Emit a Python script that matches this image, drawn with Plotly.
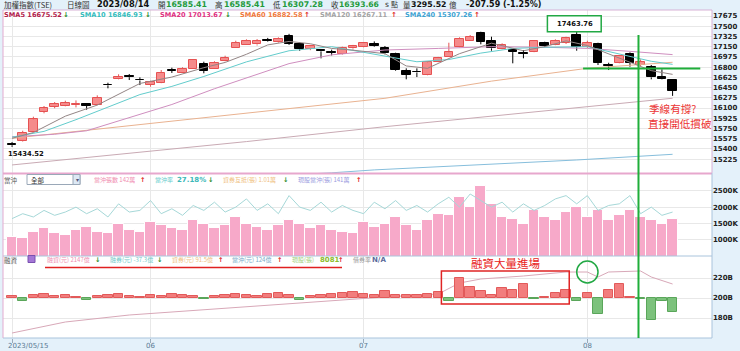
import plotly.graph_objects as go

W, H = 740, 351

# ---------------- data ----------------
day_index = list(range(63))
open_px = [15470, 15535, 15694, 16031, 16122, 16139, 16150, 16160, 16151, 16497,
           16596, 16640, 16582, 16493, 16523, 16745, 16704, 16762, 16853, 16773,
           16899, 17132, 17184, 17190, 17260, 17230, 17330, 17200, 17110, 17090,
           17060, 17020, 17120, 17150, 17200, 17132, 17019, 16738, 16715, 16665,
           16882, 16978, 17139, 17252, 17379, 17252, 17105, 17093, 17040, 17053,
           17218, 17178, 17218, 17350, 17149, 17196, 16822, 16865, 17019, 16836,
           16807, 16636, 16585.41]
high_px = [15517, 15711, 15951, 16134, 16202, 16225, 16230, 16168, 16317, 16533,
           16677, 16682, 16625, 16567, 16750, 16790, 16797, 16930, 16893, 16900,
           16995, 17252, 17276, 17280, 17300, 17310, 17370, 17230, 17180, 17110,
           17100, 17150, 17180, 17230, 17240, 17161, 17047, 16779, 16779, 16890,
           16975, 17218, 17310, 17350, 17406, 17321, 17207, 17100, 17093, 17264,
           17235, 17276, 17321, 17463.76, 17252, 17218, 16875, 16995, 17053, 16933,
           16836, 16762, 16585.41]
low_px = [15434.52, 15526, 15690, 16009, 16095, 16129, 16110, 16070, 16148, 16437,
          16590, 16579, 16493, 16465, 16520, 16700, 16700, 16760, 16694, 16770,
          16895, 17130, 17180, 17170, 17230, 17220, 17180, 17080, 17090, 16950,
          17000, 17010, 17100, 17140, 17150, 17019, 16738, 16591, 16630, 16660,
          16878, 16975, 17135, 17248, 17190, 17081, 17100, 16865, 16951, 17050,
          17139, 17175, 17196, 17081, 17130, 16836, 16750, 16860, 16807, 16820,
          16591, 16590, 16307.28]
close_px = [15462, 15672, 15906, 16095, 16168, 16185, 16165, 16142, 16276, 16488,
            16636, 16628, 16572, 16550, 16704, 16740, 16773, 16922, 16738, 16875,
            16956, 17218, 17247, 17250, 17240, 17290, 17200, 17110, 17160, 17070,
            17050, 17130, 17160, 17210, 17170, 17036, 16750, 16665, 16708, 16882,
            16961, 17053, 17281, 17321, 17235, 17122, 17178, 17058, 17032, 17252,
            17161, 17247, 17293, 17149, 17218, 16875, 16816, 16990, 16875, 16893,
            16625, 16601.25, 16393.66]

volume_k = [1100, 1050, 1250, 1350, 1200, 1150, 1300, 1400, 1250, 1200,
            1500, 1300, 1250, 1550, 1450, 1350, 1300, 1600, 1500, 1350,
            1450, 1700, 1500, 1400, 1300, 1450, 1600, 1500, 1350, 1450,
            1300, 1250, 1200, 1550, 1400, 1500, 1700, 1450, 1300, 1600,
            1800, 1750, 2300, 2000, 2650, 2100, 1700, 1650, 1500, 1900,
            1700, 1600, 1850, 2000, 1700, 1900, 1600, 1750, 1900, 1700,
            1600, 1500, 1650]
daytrade_k = [1650, 1800, 1700, 1900, 1750, 1850, 2000, 1800, 1950, 1700,
              2100, 1850, 1900, 2200, 1800, 1950, 1750, 2050, 1900, 2150,
              1850, 2000, 2250, 1900, 2100, 1800, 2350, 2000, 1900, 2150,
              1850, 2050, 1900, 1800, 2150, 1950, 2200, 1900, 2050, 1850,
              2100, 2300, 2000, 2400, 2200, 2000, 2150, 1850, 2100, 1900,
              2050, 2250, 2350, 2100, 2350, 1900, 2050, 2100, 2350, 1800,
              2000, 1750, 1850]

margin_change = [2, -3, 3, 4, 2, 3, 1, -2, 2, 3,
                 4, 2, 1, 3, 2, 4, 3, 2, -1, 2,
                 3, 4, 3, 2, 4, 5, 3, -2, 2, 3,
                 4, 5, 6, 4, 3, 7.3, 3, 2.7, 3, 3.7,
                 6, -3.4, 20, 10.7, 7, 2.7, 9.7, 8.3, 14, -0.5,
                 1, 4.7, 8, -3.3, 4.7, -15.7, 8, 14, 1, -1,
                 -21.7, -2.5, -14.3]
margin_bal_idx = [0, 5, 11, 20, 28, 35, 40, 42, 44, 48, 52, 54, 55, 56, 59, 60, 62]
margin_bal = [165, 176, 183, 190, 196, 201, 204, 215, 219, 222, 226, 226, 221, 226, 227, 221, 214]

sma5_idx = [0, 2, 5, 8, 12, 15, 18, 20, 22, 24, 26, 28, 30, 32, 35, 37, 39, 42, 45, 48, 50, 52, 54, 56, 58, 60, 62]
sma5 = [15581, 15680, 15960, 16150, 16520, 16630, 16790, 16880, 17020, 17180, 17240, 17200, 17120, 17090,
        17030, 16820, 16780, 17030, 17210, 17080, 17150, 17250, 17170, 17030, 16880, 16740, 16676]
sma10_idx = [0, 3, 6, 9, 12, 15, 18, 22, 26, 30, 35, 38, 41, 44, 47, 50, 54, 57, 60, 62]
sma10 = [15600, 15700, 15900, 16120, 16330, 16470, 16640, 16890, 17080, 17150, 16990, 16892, 16930, 17040,
         17120, 17140, 17150, 17020, 16900, 16847]
sma20_idx = [0, 4, 7, 11, 15, 19, 22, 26, 30, 35, 40, 45, 50, 54, 58, 62]
sma20 = [15608, 15650, 15710, 15930, 16160, 16430, 16620, 16860, 17010, 17093, 17120, 17150, 17140, 17120,
         17070, 17014]
sma60_idx = [0, 22, 35, 45, 54, 62]
sma60 = [15581, 16009, 16266, 16560, 16780, 16883]
sma120_idx = [0, 22, 35, 48, 62]
sma120 = [15125, 15525, 15780, 16020, 16267]
sma240_idx = [0, 30, 34, 53, 62]
sma240 = [14730, 14990, 15040, 15210, 15307]

price_ticks = [17675, 17500, 17325, 17150, 16975, 16800, 16625, 16450, 16275, 16100,
               15925, 15750, 15575, 15400, 15225]
vol_ticks = [1000, 1500, 2000, 2500]
vol_labels = ["1000K", "1500K", "2000K", "2500K"]
margin_ticks = [180, 200, 220]
margin_labels = ["180B", "200B", "220B"]
month_idx = [0, 13, 33, 54]
month_labels = ["2023/05/15", "06", "07", "08"]
support_level = 16776
break_idx = 58.8
peak_idx = 53

# ---------------- helpers ----------------
def px(x):
    return x / W


def py(y):
    return 1 - y / H


LAT = "DejaVu Sans"
CJK = "Noto Sans CJK TC"


def ann(text, x, y, size=7, color="#333", bold=False, family=LAT, xanchor="left"):
    return dict(text=text, x=px(x), y=py(y), xref="paper", yref="paper",
                xanchor=xanchor, yanchor="middle", showarrow=False,
                font=dict(size=size, color=color, family=family,
                          weight="bold" if bold else "normal"))


fig = go.Figure()

# ---------------- price panel: candles drawn from bars (bodies) + lines (wicks) ----------------
RED_FILL, RED_LINE = "#f58b8b", "#e65252"
MIN_BODY = 14  # minimum visible body thickness in price points (style)
for rising, fill, edge in [(True, RED_FILL, RED_LINE), (False, "#000000", "#000000")]:
    sel = [i for i in day_index if (close_px[i] > open_px[i]) == rising]
    base = [min(open_px[i], close_px[i]) for i in sel]
    hgt = [max(abs(close_px[i] - open_px[i]), MIN_BODY) for i in sel]
    fig.add_trace(go.Bar(x=sel, y=hgt, base=base, width=0.8,
                         marker=dict(color=fill, line=dict(color=edge, width=1)),
                         xaxis="x", yaxis="y", showlegend=False, hoverinfo="skip"))
    wx, wy = [], []
    for i in sel:
        top, bot = max(open_px[i], close_px[i]), min(open_px[i], close_px[i])
        wx += [i, i, None, i, i, None]
        wy += [high_px[i], top, None, bot, low_px[i], None]
    fig.add_trace(go.Scatter(x=wx, y=wy, mode="lines", line=dict(color=edge, width=1),
                             xaxis="x", yaxis="y", showlegend=False, hoverinfo="skip"))

ma_specs = [
    (sma240_idx, sma240, "#86bedc"),
    (sma120_idx, sma120, "#c9aab4"),
    (sma60_idx, sma60, "#e9b290"),
    (sma20_idx, sma20, "#cf8ebf"),
    (sma10_idx, sma10, "#62cccc"),
    (sma5_idx, sma5, "#938585"),
]
for xi, yi, col in ma_specs:
    fig.add_trace(go.Scatter(x=xi, y=yi, mode="lines", line=dict(color=col, width=1),
                             xaxis="x", yaxis="y", showlegend=False, hoverinfo="skip"))

# ---------------- volume panel ----------------
fig.add_trace(go.Bar(x=day_index, y=volume_k, marker=dict(color="#f7a9c9", line=dict(color="white", width=1)),
                     width=1.0, xaxis="x", yaxis="y2", showlegend=False))
fig.add_trace(go.Scatter(x=day_index, y=daytrade_k, mode="lines", line=dict(color="#a6d8d8", width=1),
                         xaxis="x", yaxis="y2", showlegend=False, hoverinfo="skip"))

# ---------------- margin panel ----------------
bar_cols = ["#f27d7d" if v >= 0 else "#7cc27c" for v in margin_change]
bar_lines = ["#e25a5a" if v >= 0 else "#5aa65a" for v in margin_change]
fig.add_trace(go.Bar(x=day_index, y=margin_change, marker=dict(color=bar_cols, line=dict(color=bar_lines, width=1)),
                     width=0.88, xaxis="x", yaxis="y4", showlegend=False))
fig.add_trace(go.Scatter(x=margin_bal_idx, y=margin_bal, mode="lines", line=dict(color="#d8a8b8", width=1),
                         xaxis="x", yaxis="y3", showlegend=False, hoverinfo="skip"))

# ---------------- layout ----------------
x_lo, x_hi = -0.85, 65.7
tickfont = dict(size=7, color="#222", family=LAT, weight="bold")
grid = "#e8e8e8"
fig.update_layout(
    width=W, height=H, margin=dict(l=0, r=0, t=0, b=0),
    paper_bgcolor="#e4f1fa", plot_bgcolor="white",
    barmode="overlay", bargap=0, showlegend=False,
    xaxis=dict(domain=[px(3), px(712)], range=[x_lo, x_hi], anchor="y3",
               tickvals=month_idx, showticklabels=False, ticks="outside", ticklen=4,
               tickcolor="#9ab", showgrid=True, gridcolor=grid, zeroline=False, fixedrange=True),
    yaxis=dict(domain=[py(173), py(10)], range=[14987, 17778], side="right", anchor="x",
               tickvals=price_ticks, ticktext=[str(t) for t in price_ticks], tickfont=tickfont,
               showgrid=True, gridcolor=grid, zeroline=False, ticks=""),
    yaxis2=dict(domain=[py(256), py(173)], range=[513, 3038], side="right", anchor="x",
                tickvals=vol_ticks, ticktext=vol_labels, tickfont=tickfont,
                showgrid=True, gridcolor=grid, zeroline=False, ticks=""),
    yaxis3=dict(domain=[py(338), py(256)], range=[160, 242], side="right", anchor="x",
                tickvals=margin_ticks, ticktext=margin_labels, tickfont=tickfont,
                showgrid=True, gridcolor=grid, zeroline=False, ticks=""),
    yaxis4=dict(overlaying="y3", range=[-40, 42], visible=False, anchor="x"),
)

# ---------------- frames & marks ----------------
shapes = []
frame = "#d7b2d6"
blue_frame = "#a9c4dc"
shapes.append(dict(type="line", xref="paper", yref="paper", x0=px(3), x1=px(712), y0=py(10), y1=py(10),
                   line=dict(color=frame, width=1)))
shapes.append(dict(type="line", xref="paper", yref="paper", x0=px(3), x1=px(712), y0=py(173.5), y1=py(173.5),
                   line=dict(color="#e7a7cd", width=2)))
shapes.append(dict(type="line", xref="paper", yref="paper", x0=px(3), x1=px(712), y0=py(256), y1=py(256),
                   line=dict(color=blue_frame, width=1)))
shapes.append(dict(type="line", xref="paper", yref="paper", x0=px(3), x1=px(712), y0=py(338), y1=py(338),
                   line=dict(color=blue_frame, width=1)))
shapes.append(dict(type="line", xref="paper", yref="paper", x0=px(3), x1=px(3), y0=py(10), y1=py(338),
                   line=dict(color="#e3aad0", width=1)))
shapes.append(dict(type="line", xref="paper", yref="paper", x0=px(712), x1=px(712), y0=py(10), y1=py(173),
                   line=dict(color=frame, width=1)))
shapes.append(dict(type="line", xref="paper", yref="paper", x0=px(712), x1=px(712), y0=py(173), y1=py(338),
                   line=dict(color=blue_frame, width=1)))
# green support line & break line
shapes.append(dict(type="line", xref="x", yref="y", x0=53.6, x1=64.6, y0=support_level, y1=support_level,
                   line=dict(color="#1fae3a", width=2)))
shapes.append(dict(type="line", xref="x", yref="paper", x0=break_idx, x1=break_idx, y0=py(35), y1=py(338),
                   line=dict(color="#1fae3a", width=2)))
# high-price label box
shapes.append(dict(type="rect", xref="x", yref="paper", x0=peak_idx - 2.75, x1=peak_idx + 2.3,
                   y0=py(31.7), y1=py(15.7), fillcolor="white", line=dict(color="#22a844", width=1.5)))
# margin annotations: red box and green circle
shapes.append(dict(type="rect", xref="x", yref="y3", x0=40.3, x1=52.3, y0=194, y1=227,
                   line=dict(color="#e02424", width=1.5)))
shapes.append(dict(type="circle", xref="x", yref="y3", x0=53.0, x1=55.0, y0=215, y1=237,
                   line=dict(color="#22a844", width=1.5)))
# red underline of margin header
shapes.append(dict(type="line", xref="paper", yref="paper", x0=px(45), x1=px(342), y0=py(267.5), y1=py(267.5),
                   line=dict(color="#e02020", width=1.5)))
# dropdown
shapes.append(dict(type="rect", xref="paper", yref="paper", x0=px(27), x1=px(80), y0=py(184.5), y1=py(174.5),
                   fillcolor="white", line=dict(color="#9aa8b8", width=1)))
shapes.append(dict(type="rect", xref="paper", yref="paper", x0=px(73), x1=px(80), y0=py(184.5), y1=py(174.5),
                   fillcolor="#dde9f5", line=dict(color="#9aa8b8", width=1)))
# purple icon
shapes.append(dict(type="rect", xref="paper", yref="paper", x0=px(28), x1=px(35), y0=py(262.5), y1=py(255.5),
                   fillcolor="#a477d6", line=dict(color="#7a50b0", width=1)))
fig.update_layout(shapes=shapes)

anns = []
# header row 1
green = "#1f9a3c"
anns += [
    ann("加權指數(TSE)", 2, 4.5, 7.5, "#333", family=CJK),
    ann("日線圖", 65, 4.5, 7.5, "#333", family=CJK),
    ann("2023/08/14", 95, 4.5, 8.3, "#111", True),
    ann("開", 156, 4.5, 7.5, "#333", family=CJK),
    ann("16585.41", 164, 4.5, 7.8, green, True),
    ann("高", 213, 4.5, 7.5, "#333", family=CJK),
    ann("16585.41", 222, 4.5, 7.8, green, True),
    ann("低", 271, 4.5, 7.5, "#333", family=CJK),
    ann("16307.28", 280, 4.5, 7.8, green, True),
    ann("收", 329, 4.5, 7.5, "#333", family=CJK),
    ann("16393.66", 337, 4.5, 7.6, green, True),
    ann("s", 383, 4.5, 7.5, "#333"),
    ann("點", 389, 4.5, 7, "#333", family=CJK),
    ann("量", 401, 4.5, 7.5, "#333", family=CJK),
    ann("3295.52", 409, 4.5, 7.8, "#111", True),
    ann("億", 447, 4.5, 7.5, "#333", family=CJK),
    ann("-207.59 (-1.25%)", 464, 4.5, 8, "#111", True),
]
# header row 2 (moving averages)
up, dn = "#e02222", "#2a8a2a"
for txt, x, col, arr, ax in [
    ("SMA5 16675.52", 2, "#b21a4a", "↓", 61),
    ("SMA10 16846.93", 78, "#33bcbc", "↓", 143),
    ("SMA20 17013.67", 158, "#e0307f", "↓", 223),
    ("SMA60 16882.58", 238, "#f0783a", "↑", 302),
    ("SMA120 16267.11", 318, "#a3a3a3", "↑", 389),
    ("SMA240 15307.26", 403, "#3ca2d2", "↑", 472),
]:
    anns.append(ann(txt, x, 15.3, 6.6, col, True))
    anns.append(ann(arr, ax, 15.3, 7, up if arr == "↑" else dn, True))

# volume header
anns += [
    ann("當沖", 2, 179.5, 6.5, "#555", family=CJK),
    ann("全部", 29, 179.5, 6.5, "#333", family=CJK),
    ann("▾", 73.5, 179.5, 6, "#557"),
    ann("當沖張數 142萬", 92, 179.5, 6, "#f08db0", family=CJK),
    ann("↑", 138, 179.5, 6.5, up, True),
    ann("當沖率", 153, 179.5, 6, "#66cccc", family=CJK),
    ann("27.18%", 175, 179.5, 7, "#3cb8b8", True),
    ann("↓", 206, 179.5, 6.5, dn, True),
    ann("資券互抵(張) 1.01萬", 221, 179.5, 6, "#efc080", family=CJK),
    ann("↓", 281, 179.5, 6.5, dn, True),
    ann("現股當沖(張) 141萬", 296, 179.5, 6, "#9c9ce0", family=CJK),
    ann("↑", 354, 179.5, 6.5, up, True),
]
# margin header
anns += [
    ann("融資", 2, 259.5, 6.5, "#555", family=CJK),
    ann("融資(元) 2147億", 45, 259.5, 6, "#f08db0", family=CJK),
    ann("↓", 93, 259.5, 6.5, dn, True),
    ann("融券(元) -37.3億", 108, 259.5, 6, "#70c8c8", family=CJK),
    ann("↓", 155, 259.5, 6.5, dn, True),
    ann("資券(元) 91.5億", 170, 259.5, 6, "#efc080", family=CJK),
    ann("↑", 216, 259.5, 6.5, up, True),
    ann("當沖(元) 124億", 230, 259.5, 6, "#78aac8", family=CJK),
    ann("↑", 275, 259.5, 6.5, up, True),
    ann("現股(張)", 290, 259.5, 6, "#a4d080", family=CJK),
    ann("8081", 318, 259.5, 7, "#8cbc2c", True),
    ann("↑", 336, 259.5, 6.5, up, True),
    ann("借券率", 351, 259.5, 6, "#999", family=CJK),
    ann("N/A", 370, 259.5, 7, "#5a6a9a", True),
]
# chart annotations
anns += [
    dict(text="15434.52", x=0, y=low_px[0], xref="x", yref="y", xanchor="left", yanchor="top",
         xshift=-6, yshift=-1, showarrow=False, font=dict(size=6.8, color="#111", family=LAT, weight="bold")),
    dict(text="17463.76", x=peak_idx - 0.2, y=py(23.7), xref="x", yref="paper", xanchor="center",
         yanchor="middle", showarrow=False, font=dict(size=6.8, color="#111", family=LAT, weight="bold")),
    ann("季線有撐?", 647, 108, 10.6, "#ec3535", family=CJK),
    ann("直接開低摜破", 646, 124, 10.6, "#ec3535", family=CJK),
    dict(text="融資大量進場", x=46.3, y=235, xref="x", yref="y3", xanchor="center", yanchor="middle",
         showarrow=False, font=dict(size=11.5, color="#e82222", family=CJK)),
]
# x-axis month labels
for i, lab in zip(month_idx, month_labels):
    if i == 0:
        anns.append(dict(text=lab, x=i, y=py(345.5), xref="x", yref="paper", xanchor="left", yanchor="middle",
                         xshift=-6, showarrow=False, font=dict(size=7, color="#5a7a94", family=LAT)))
    else:
        anns.append(dict(text=lab, x=i, y=py(345.5), xref="x", yref="paper", xanchor="center", yanchor="middle",
                         showarrow=False, font=dict(size=7, color="#5a7a94", family=LAT)))
fig.update_layout(annotations=anns)

fig.write_html("out.html")
